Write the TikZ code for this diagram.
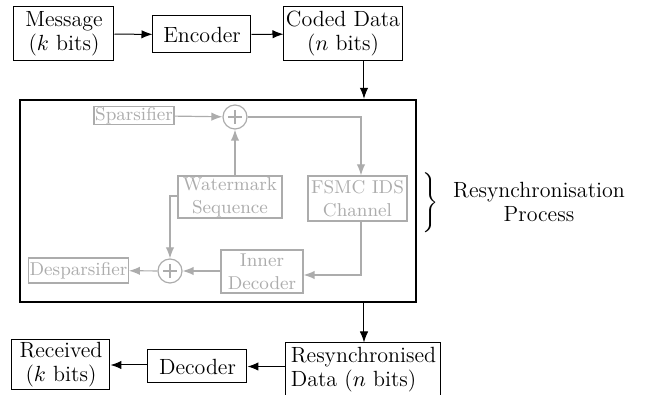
\documentclass[tikz,border=0pt]{standalone}
\usetikzlibrary{arrows.meta}
\definecolor{faint}{RGB}{172,172,172}
\begin{document}
\begin{tikzpicture}[x=0.5pt,y=-0.5pt,
  font=\fontsize{11}{12}\selectfont,
  blk/.style={draw, line width=0.5pt, inner sep=1pt, align=center},
  inner/.style={draw=faint, text=faint, line width=0.6pt, inner sep=0.5pt,
    align=center, font=\fontsize{9.3}{11.5}\selectfont},
  sumnode/.style={circle, draw=faint, line width=0.6pt, minimum size=12pt, inner sep=0pt},
  arr/.style={-{Latex[length=5.5pt,width=4.2pt]}, line width=0.5pt},
  farr/.style={-{Latex[length=5.5pt,width=4.2pt]}, draw=faint, line width=0.6pt}]
\useasboundingbox (0,0) rectangle (645,395);

% outer chain
\node[blk, minimum width=50pt, minimum height=27pt] (msg) at (64,34) {Message\\($k$ bits)};
\node[blk, minimum width=49pt, minimum height=18.5pt] (enc) at (202,34.5) {Encoder};
\node[blk, minimum width=52pt, minimum height=27pt] (coded) at (343,34) {Coded Data\\($n$ bits)};

% resynchronisation block
\node[draw, line width=1.2pt, minimum width=198pt, minimum height=101pt, inner sep=0pt] (proc) at (218,201) {};

\node[inner, minimum width=40pt, minimum height=8.5pt] (sparse) at (134,115.5) {Sparsifier};
\node[sumnode] (sumA) at (235,117) {};
\node[inner, minimum width=52pt, minimum height=21pt] (wm) at (230,197) {Watermark\\Sequence};
\node[inner, minimum width=49.5pt, minimum height=22.5pt] (chan) at (357.5,198.5) {FSMC IDS\\Channel};
\node[inner, minimum width=41pt, minimum height=21.5pt] (idec) at (262,271.5) {Inner\\Decoder};
\node[sumnode] (sumB) at (170,271) {};
\node[inner, minimum width=49.5pt, minimum height=12.5pt] (desp) at (78.5,270.5) {Desparsifier};

\foreach \s in {sumA,sumB}{
  \draw[faint, line width=0.6pt] ([xshift=-3.6pt]\s.center) -- ([xshift=3.6pt]\s.center);
  \draw[faint, line width=0.6pt] ([yshift=-3.6pt]\s.center) -- ([yshift=3.6pt]\s.center);
}

\coordinate (tr) at (361,117);
\coordinate (br) at (361,275);
\coordinate (wl) at (170,196);

\draw[farr] (sparse) -- (sumA);
\draw[farr] (wm.north -| sumA) -- (sumA);
\draw[farr] (sumA) -- (tr) -- (tr |- chan.north);
\draw[farr] (wm.west |- wl) -- (wl) -- (sumB);
\draw[farr] (chan.south -| br) -- (br) -- (br -| idec.east);
\draw[farr] (idec.west |- sumB) -- (sumB);
\draw[farr] (sumB) -- (desp);

% brace and label
\node[font=\fontsize{9}{10.5}\selectfont] (brace) at (431,202) {$\Bigg\}$};
\node[align=center] (lbl) at (539,202) {Resynchronisation\\Process};

% return chain
\node[blk, minimum width=77.5pt, minimum height=27pt, align=left] (resync) at (363.5,370) {Resynchronised\\Data ($n$ bits)};
\node[blk, minimum width=49.5pt, minimum height=16.5pt] (dec) at (197.5,366.5) {Decoder};
\node[blk, minimum width=49pt, minimum height=25pt] (recv) at (61,365) {Received\\($k$ bits)};

\coordinate (cx) at (364,0);
\draw[arr] (msg) -- (enc);
\draw[arr] (enc) -- (coded);
\draw[arr] (coded.south -| cx) -- (proc.north -| cx);
\draw[arr] (proc.south -| cx) -- (resync.north -| cx);
\draw[arr] (resync.west |- dec) -- (dec);
\draw[arr] (dec.west |- recv) -- (recv);
\end{tikzpicture}
\end{document}
